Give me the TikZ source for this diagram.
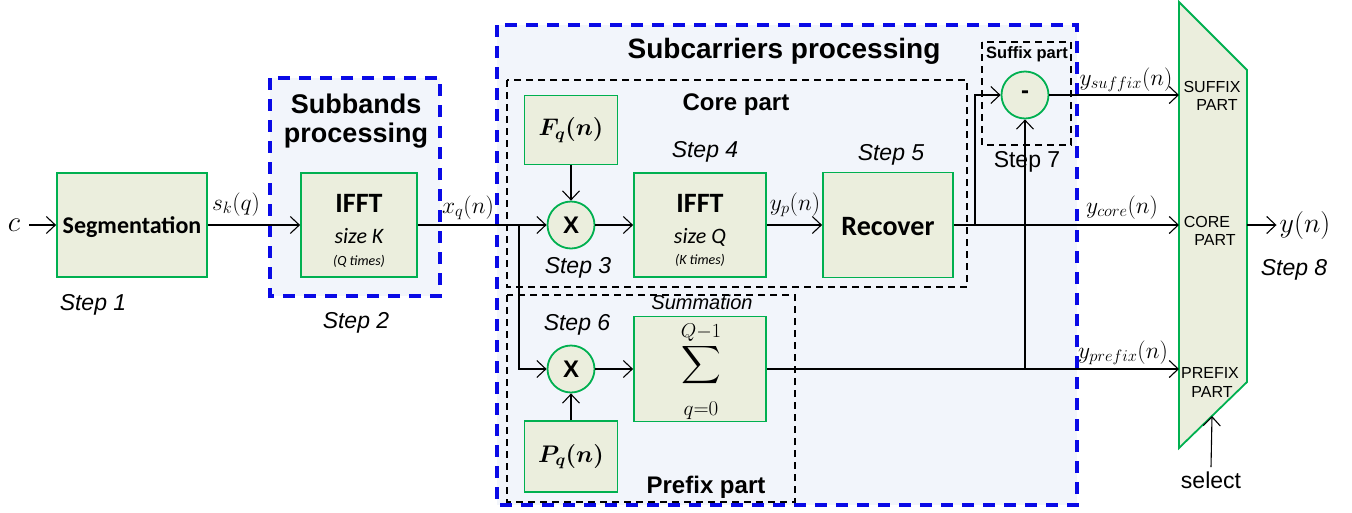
\RequirePackage{fix-cm}
\documentclass[tikz,border=0pt]{standalone}
\usepackage{fontspec}
\setmainfont{Liberation Sans}
\newfontfamily\carl{Carlito}
\usepackage{amsmath,bm,graphicx}
\usetikzlibrary{arrows.meta}
\definecolor{boxfill}{HTML}{EBEEDD}
\definecolor{boxline}{HTML}{00B050}
\definecolor{bluedash}{HTML}{0A0AE6}
\definecolor{panel}{HTML}{F2F5FB}
\begin{document}
\begin{tikzpicture}[x=1pt,y=-1pt,
 blk/.style={draw=boxline, fill=boxfill, line width=1.8pt, inner sep=0pt},
 circ/.style={circle, draw=boxline, fill=boxfill, line width=1.8pt, minimum size=47pt, inner sep=0pt},
 bluebox/.style={draw=bluedash, fill=panel, line width=3.6pt, dash pattern=on 12pt off 9pt},
 partbox/.style={draw=black, line width=1.7pt, dash pattern=on 7pt off 5pt},
 wire/.style={line width=1.1pt},
 conn/.style={line width=1.1pt, -{Straight Barb[length=9pt,width=17pt,line width=1.1pt]}},
 steplbl/.style={anchor=base, inner sep=0pt, font=\fontsize{23}{27}\selectfont\itshape},
 ttl/.style={anchor=base, inner sep=0pt, font=\fontsize{24}{28}\selectfont\bfseries},
 mlbl/.style={anchor=base, inner sep=0pt, font=\fontsize{23.5}{27}\selectfont},
 muxlbl/.style={anchor=base, inner sep=0pt, font=\fontsize{16}{18}\selectfont},
 bigtxt/.style={anchor=base, inner sep=0pt, font=\fontsize{28}{32}\selectfont\carl\bfseries},
 midtxt/.style={anchor=base, inner sep=0pt, font=\fontsize{22}{26}\selectfont\carl\itshape},
 smtxt/.style={anchor=base, inner sep=0pt, font=\fontsize{14}{16}\selectfont\carl\itshape}]
\useasboundingbox (0,0) rectangle (1352,512);

% panels
\draw[bluebox] (270,78) rectangle (440,296);
\draw[bluebox] (497,25) rectangle (1077,505);
\draw[partbox] (507,80) rectangle (967,287);
\draw[partbox] (507,295) rectangle (795,502);
\draw[partbox] (982,42) rectangle (1071,145);

\node[anchor=base, inner sep=0pt, font=\fontsize{27}{33}\selectfont\bfseries] (subtitle) at (356,113) {Subbands};
\node[anchor=base, inner sep=0pt, font=\fontsize{27}{33}\selectfont\bfseries] (subtitle2) at (356,142) {processing};
\node[anchor=base, inner sep=0pt, font=\fontsize{28}{33}\selectfont\bfseries] (cartitle) at (784,58) {Subcarriers processing};
\node[ttl] (coretitle) at (736,110) {Core part};
\node[ttl] (prefixtitle) at (706,493) {Prefix part};
\node[anchor=base, inner sep=0pt, font=\fontsize{16.5}{20}\selectfont\bfseries] (suffixtitle) at (1027,58) {Suffix part};
\node[anchor=base, inner sep=0pt, font=\fontsize{20}{24}\selectfont\itshape] (summlbl) at (702,309) {Summation};

% blocks
\node[blk, minimum width=150pt, minimum height=104pt] (seg) at (132,225) {};
\node[anchor=base, inner sep=0pt, font=\fontsize{24}{28}\selectfont\carl\bfseries] (segtxt) at (132,233) {Segmentation};

\node[blk, minimum width=116pt, minimum height=104pt] (ifft1) at (359,225) {};
\node[bigtxt] (ifft1a) at (359,212) {IFFT};
\node[midtxt] (ifft1b) at (359,243) {size K};
\node[smtxt] (ifft1c) at (359,265) {(Q times)};

\node[blk, minimum width=93pt, minimum height=69pt] (fq) at (571,130) {\fontsize{24}{28}\selectfont$\boldsymbol{F_q(n)}$};
\node[circ] (x1) at (571,225) {\fontsize{24}{28}\selectfont\bfseries X};

\node[blk, minimum width=132pt, minimum height=104pt] (ifft2) at (700,225) {};
\node[bigtxt] (ifft2a) at (700,212) {IFFT};
\node[midtxt] (ifft2b) at (700,243) {size Q};
\node[smtxt] (ifft2c) at (700,264) {(K times)};

\node[blk, minimum width=130pt, minimum height=105pt] (rec) at (888,225) {};
\node[bigtxt] (rectxt) at (888,235) {Recover};

\node[circ] (x2) at (571,369) {\fontsize{24}{28}\selectfont\bfseries X};
\node[blk, minimum width=93pt, minimum height=71pt] (pq) at (571,456.5) {\fontsize{24}{28}\selectfont$\boldsymbol{P_q(n)}$};

\node[blk, minimum width=132pt, minimum height=105pt] (sum) at (700,369) {};
\node[inner sep=0pt] (sumsym) at (701,372) {\smash{\scalebox{2.75}[2.65]{$\displaystyle\sum$}}};
\node[anchor=base, inner sep=0pt, font=\fontsize{20}{22}\selectfont] (sumtop) at (701,337) {$Q{-}1$};
\node[anchor=base, inner sep=0pt, font=\fontsize{21}{22}\selectfont] (sumbot) at (701,415) {$q{=}0$};

\node[circ] (minus) at (1025,95) {\fontsize{24}{28}\selectfont\bfseries -};

% mux
\draw[draw=boxline, fill=boxfill, line width=1.8pt] (1179,2) -- (1247,70) -- (1247,382) -- (1179,448) -- cycle;
\coordinate (msuf) at (1179,95);
\coordinate (mcore) at (1179,225);
\coordinate (mpre) at (1179,369);
\coordinate (mout) at (1247,225);
\coordinate (msel) at (1212,416);
\node[muxlbl] (l1) at (1212,92) {SUFFIX};
\node[muxlbl] (l2) at (1217,110) {PART};
\node[muxlbl] (l3) at (1207,227) {CORE};
\node[muxlbl] (l4) at (1215,245) {PART};
\node[muxlbl] (l5) at (1210,378) {PREFIX};
\node[muxlbl] (l6) at (1212,397) {PART};

% input / output
\node[inner sep=9pt, font=\fontsize{29}{32}\selectfont] (cin) at (14,225) {$c$};
\node[inner sep=3pt, font=\fontsize{28}{32}\selectfont] (yout) at (1305,225) {$y(n)$};
\node[anchor=base, inner sep=4pt, font=\fontsize{23}{27}\selectfont] (sel) at (1211,488) {select};

% labels
\node[mlbl] (lsk) at (236,210) {$s_k(q)$};
\node[mlbl] (lxq) at (468,213) {$x_q(n)$};
\node[mlbl] (lyp) at (795,210) {$y_p(n)$};
\node[mlbl] (lysuf) at (1126,85) {$y_{suffix}(n)$};
\node[mlbl] (lycore) at (1122,213) {$y_{core}(n)$};
\node[mlbl] (lypre) at (1123,358) {$y_{prefix}(n)$};

% steps
\node[steplbl] (s1) at (93,310) {Step 1};
\node[steplbl] (s2) at (356,328) {Step 2};
\node[steplbl] (s3) at (578,273) {Step 3};
\node[steplbl] (s4) at (705,157) {Step 4};
\node[steplbl] (s5) at (891,160) {Step 5};
\node[steplbl] (s6) at (577,330) {Step 6};
\node[anchor=base, inner sep=0pt, font=\fontsize{23}{27}\selectfont] (s7) at (1027,167) {Step 7};
\node[steplbl] (s8) at (1294,275) {Step 8};

% connectors
\coordinate (br1) at (519,225);
\coordinate (br2) at (975,225);
\coordinate (br3) at (1025,369);
\draw[conn] (cin.east) -- (seg.west);
\draw[conn] (seg.east) -- (ifft1.west);
\draw[conn] (ifft1.east) -- (x1.west);
\draw[conn] (br1) |- (x2.west);
\draw[conn] (fq.south) -- (x1.north);
\draw[conn] (x1.east) -- (ifft2.west);
\draw[conn] (ifft2.east) -- (rec.west);
\draw[conn] (rec.east) -- (mcore);
\draw[conn] (br2) |- (minus.west);
\draw[conn] (pq.north) -- (x2.south);
\draw[conn] (x2.east) -- (sum.west);
\draw[conn] (sum.east) -- (mpre);
\draw[conn] (br3) -- (minus.south);
\draw[conn] (minus.east) -- (msuf);
\draw[conn] (mout) -- (yout.west);
\draw[conn] (sel.north) -- (msel);
\end{tikzpicture}
\end{document}
